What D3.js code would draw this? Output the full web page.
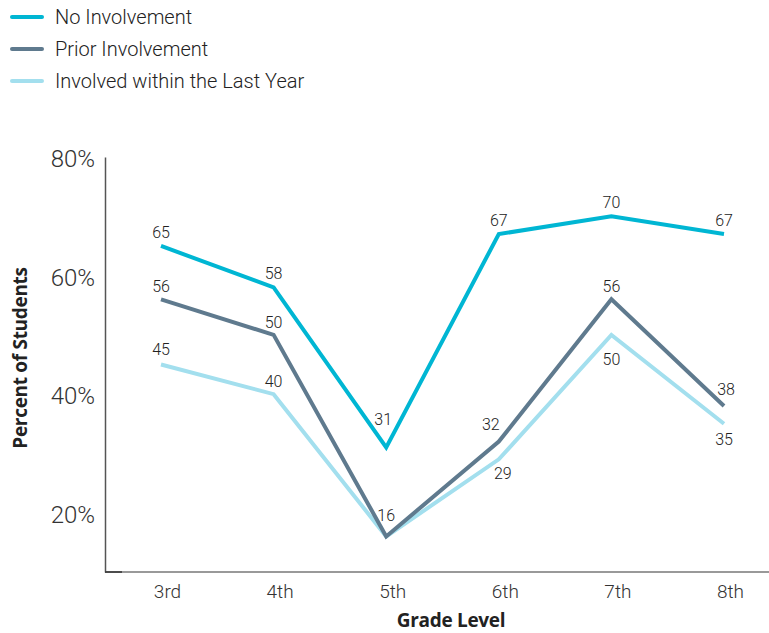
<!DOCTYPE html>
<html>
<head>
<meta charset="utf-8">
<script src="https://cdn.jsdelivr.net/npm/d3@7"></script>
<style>
  html, body { margin: 0; padding: 0; background: #fff; }
  svg { display: block; }
</style>
</head>
<body>
<svg id="chart" width="769" height="633"></svg>
<script>
// Share of students by grade level and involvement status
const grades = ["3rd", "4th", "5th", "6th", "7th", "8th"];
const seriesNames = ["No Involvement", "Prior Involvement", "Involved within the Last Year"];
const noInvolvement = [65, 58, 31, 67, 70, 67];
const priorInvolvement = [56, 50, 16, 32, 56, 38];
const lastYear = [45, 40, 16, 29, 50, 35];
const yTicks = [20, 40, 60, 80];

const colors = ["#00b6d3", "#5f7a8e", "#a3dfee"];

// label placement per point: [dx, dy] relative to the point
const labelOffsets = [
  [[0, -14], [0, -14], [-3, -28], [0, -14], [0, -14], [0, -14]],
  [[0, -13], [0, -13], [0, -21], [-8, -17], [0, -13], [2, -17]],
  [[0, -15], [0, -13], null, [4, 14], [0, 24], [0, 15]]
];

const series = [noInvolvement, priorInvolvement, lastYear].map((vals, i) => ({
  name: seriesNames[i],
  color: colors[i],
  points: vals.map((v, j) => ({ grade: grades[j], value: v, offset: labelOffsets[i][j] }))
}));

const svg = d3.select("#chart");

const x = d3.scalePoint().domain(grades).range([161, 724]);
const y = d3.scaleLinear().domain([10, 80]).range([572, 157]);

// y axis
const yAxis = svg.append("g")
  .attr("transform", "translate(105,0)")
  .call(d3.axisLeft(y).tickValues(yTicks).tickSize(0).tickPadding(10).tickFormat(d => d + "%"));
yAxis.select(".domain").attr("stroke", "#555").attr("stroke-width", 1.5);
yAxis.selectAll("text")
  .attr("font-family", "Roboto, 'Open Sans', sans-serif")
  .attr("font-weight", 300)
  .attr("font-size", 24)
  .attr("fill", "#333")
  .attr("dy", "0.4em");

// x axis line
svg.append("line")
  .attr("x1", 105).attr("x2", 769)
  .attr("y1", y(10)).attr("y2", y(10))
  .attr("stroke", "#777").attr("stroke-width", 1.5);
svg.append("line")
  .attr("x1", 105).attr("x2", 122)
  .attr("y1", y(10)).attr("y2", y(10))
  .attr("stroke", "#333").attr("stroke-width", 1.5);

const xAxis = svg.append("g")
  .attr("transform", `translate(0,${y(10)})`)
  .call(d3.axisBottom(x).tickSize(0).tickPadding(13));
xAxis.select(".domain").remove();
xAxis.selectAll("text")
  .attr("font-family", "Roboto, 'Open Sans', sans-serif")
  .attr("font-weight", 300)
  .attr("font-size", 19)
  .attr("fill", "#333")
  .attr("dx", 6);

// axis titles
svg.append("text")
  .attr("x", 451).attr("y", 627)
  .attr("text-anchor", "middle")
  .attr("font-family", "'Open Sans', sans-serif")
  .attr("font-weight", 700)
  .attr("font-size", 19)
  .attr("letter-spacing", -0.3)
  .attr("fill", "#222")
  .text("Grade Level");

svg.append("text")
  .attr("transform", "translate(27,358) rotate(-90)")
  .attr("text-anchor", "middle")
  .attr("font-family", "'Open Sans', sans-serif")
  .attr("font-weight", 700)
  .attr("font-size", 19)
  .attr("letter-spacing", -0.3)
  .attr("fill", "#222")
  .text("Percent of Students");

// lines (draw lightest first so darker lines sit on top)
const line = d3.line().x(d => x(d.grade)).y(d => y(d.value));
svg.append("g")
  .selectAll("path")
  .data(series.slice().reverse())
  .join("path")
  .attr("d", d => line(d.points))
  .attr("fill", "none")
  .attr("stroke", d => d.color)
  .attr("stroke-width", 4)
  .attr("stroke-linejoin", "miter");

// value labels
const labels = svg.append("g")
  .attr("font-family", "Roboto, 'Open Sans', sans-serif")
  .attr("font-weight", 300)
  .attr("font-size", 16)
  .attr("fill", "#222")
  .attr("text-anchor", "middle");
series.forEach(s => {
  labels.selectAll(null)
    .data(s.points.filter(p => p.offset))
    .join("text")
    .attr("x", p => x(p.grade) + p.offset[0])
    .attr("y", p => y(p.value) + p.offset[1])
    .attr("dy", "0.36em")
    .text(p => p.value);
});

// legend
const legend = svg.append("g")
  .selectAll("g")
  .data(series)
  .join("g")
  .attr("transform", (d, i) => `translate(0,${17 + i * 32})`);
legend.append("line")
  .attr("x1", 12).attr("x2", 42)
  .attr("stroke", d => d.color)
  .attr("stroke-width", 4)
  .attr("stroke-linecap", "round");
legend.append("text")
  .attr("x", 55)
  .attr("dy", "0.36em")
  .attr("font-family", "Roboto, 'Open Sans', sans-serif")
  .attr("font-weight", 300)
  .attr("font-size", 20)
  .attr("fill", "#222")
  .text(d => d.name);
</script>
</body>
</html>
